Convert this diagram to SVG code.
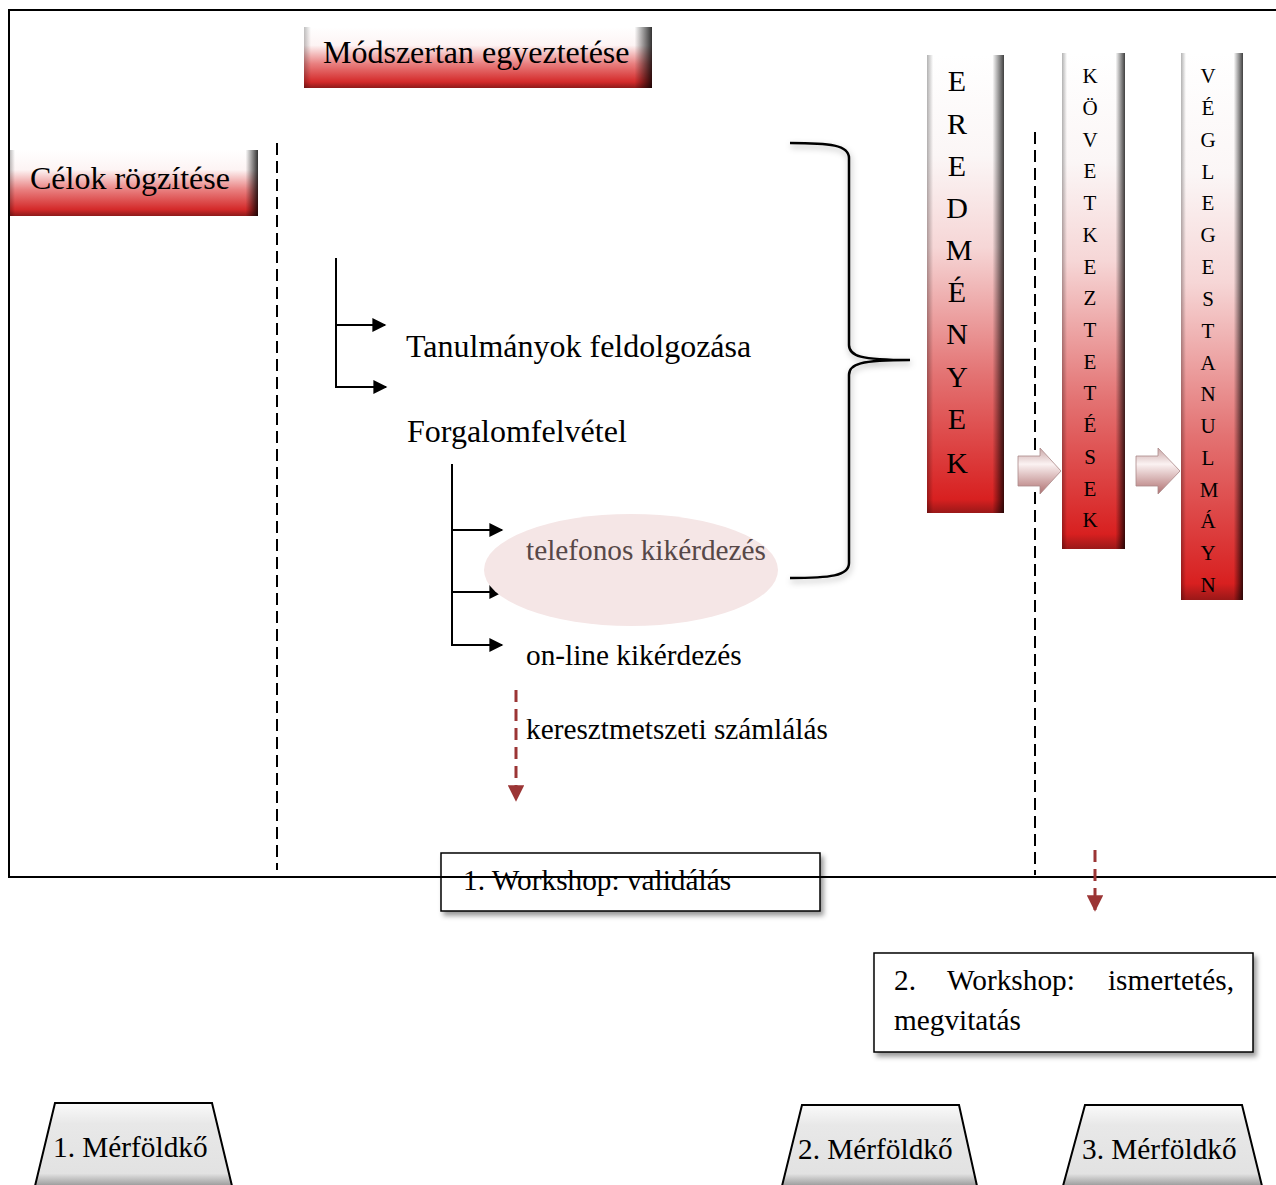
<svg xmlns="http://www.w3.org/2000/svg" width="1276" height="1185" viewBox="0 0 1276 1185">
<defs>
<linearGradient id="redV" x1="0" y1="0" x2="0" y2="1">
<stop offset="0" stop-color="#ffffff"/>
<stop offset="0.3" stop-color="#fdf4f4"/>
<stop offset="0.6" stop-color="#e98080"/>
<stop offset="0.9" stop-color="#d42a2a"/>
<stop offset="1" stop-color="#8e1a1a"/>
</linearGradient>
<linearGradient id="redCol" x1="0" y1="0" x2="0" y2="1">
<stop offset="0" stop-color="#ffffff"/>
<stop offset="0.22" stop-color="#fbf6f6"/>
<stop offset="0.42" stop-color="#f6d6d6"/>
<stop offset="0.7" stop-color="#e37272"/>
<stop offset="0.97" stop-color="#d82020"/>
<stop offset="1" stop-color="#9a1818"/>
</linearGradient>
<linearGradient id="bevelH" x1="0" y1="0" x2="1" y2="0">
<stop offset="0" stop-color="#000" stop-opacity="0.3"/>
<stop offset="0.08" stop-color="#000" stop-opacity="0"/>
<stop offset="0.85" stop-color="#000" stop-opacity="0"/>
<stop offset="1" stop-color="#000" stop-opacity="0.75"/>
</linearGradient>
<linearGradient id="bevelBox" x1="0" y1="0" x2="1" y2="0">
<stop offset="0" stop-color="#000" stop-opacity="0.25"/>
<stop offset="0.02" stop-color="#000" stop-opacity="0"/>
<stop offset="0.95" stop-color="#000" stop-opacity="0"/>
<stop offset="1" stop-color="#000" stop-opacity="0.8"/>
</linearGradient>
<linearGradient id="grayT" x1="0" y1="0" x2="0" y2="1">
<stop offset="0" stop-color="#fafafa"/>
<stop offset="0.25" stop-color="#e8e8e8"/>
<stop offset="0.85" stop-color="#e2e2e2"/>
<stop offset="1" stop-color="#9a9a9a"/>
</linearGradient>
<linearGradient id="arrowG" x1="0" y1="0" x2="0" y2="1">
<stop offset="0" stop-color="#c9a6a6"/>
<stop offset="0.35" stop-color="#fbf2f2"/>
<stop offset="1" stop-color="#b07070"/>
</linearGradient>
<filter id="sh" x="-10%" y="-10%" width="130%" height="140%">
<feDropShadow dx="3" dy="4" stdDeviation="2.5" flood-color="#000" flood-opacity="0.4"/>
</filter>
<filter id="bsh" x="-20%" y="-10%" width="140%" height="120%">
<feDropShadow dx="1" dy="3" stdDeviation="3" flood-color="#000" flood-opacity="0.3"/>
</filter>
<marker id="ah" viewBox="0 0 10 10" refX="9" refY="5" markerWidth="9" markerHeight="7" orient="auto" markerUnits="strokeWidth">
<path d="M0,0 L10,5 L0,10 Z" fill="#000"/>
</marker>
<marker id="rah" viewBox="0 0 10 10" refX="9" refY="5" markerWidth="5.5" markerHeight="5.5" orient="auto" markerUnits="strokeWidth">
<path d="M0,0 L10,5 L0,10 Z" fill="#9b3535"/>
</marker>
</defs>
<style>
text{font-family:"Liberation Serif","Times New Roman",serif;fill:#000}
.t28{font-size:32px}
.t26{font-size:29.3px}
.big{font-size:30px;text-anchor:middle}
.sm{font-size:21px;text-anchor:middle}
.ln{fill:none;stroke:#000;stroke-width:2}
.dash{fill:none;stroke:#000;stroke-width:2;stroke-dasharray:12,6}
.rdash{fill:none;stroke:#9b3535;stroke-width:3;stroke-dasharray:12,7}
.brk{fill:none;stroke:#000;stroke-width:2.5}
.wbox{fill:#fff;stroke:#000;stroke-width:1.5}
.trap{fill:url(#grayT);stroke:#000;stroke-width:2}
</style>
<rect x="0" y="0" width="1276" height="1185" fill="#fff"/>
<path d="M1276,10 H9 V877 H1276" fill="none" stroke="#000" stroke-width="2"/>

<g id="connectors">
<path class="dash" d="M277,143 V870"/>
<path class="dash" d="M1035,132 V875"/>
<path class="ln" d="M336,258 V387 H386" marker-end="url(#ah)"/>
<path class="ln" d="M336,325 H385" marker-end="url(#ah)"/>
<path class="ln" d="M452,464 V645 H502" marker-end="url(#ah)"/>
<path class="ln" d="M452,530 H502" marker-end="url(#ah)"/>
<path class="ln" d="M452,592 H502" marker-end="url(#ah)"/>
<path class="rdash" d="M516,690 V800" marker-end="url(#rah)"/>
<path class="rdash" d="M1095,850 V910" marker-end="url(#rah)"/>
<path class="brk" filter="url(#bsh)" d="M790,143 C830,143 849,145 849,158 V345 C849,356 860,360 910,360 C860,360 849,364 849,375 V563 C849,576 830,578 790,578"/>
<path d="M1018,456 H1040 V448 L1061,471 L1040,494 V486 H1018 Z" fill="url(#arrowG)" stroke="#a88" stroke-width="0.8"/>
<path d="M1136,456 H1158 V448 L1180,471 L1158,494 V486 H1136 Z" fill="url(#arrowG)" stroke="#a88" stroke-width="0.8"/>
</g>

<g id="celok">
<rect x="10" y="150" width="248" height="66" fill="url(#redV)"/>
<rect x="10" y="150" width="248" height="66" fill="url(#bevelBox)"/>
<text class="t28" x="30" y="189">Célok rögzítése</text>
</g>

<g id="modszertan">
<rect x="304" y="27" width="348" height="61" fill="url(#redV)"/>
<rect x="304" y="27" width="348" height="61" fill="url(#bevelBox)"/>
<text class="t28" x="323" y="63">Módszertan egyeztetése</text>
</g>

<g id="tanulmanyok"><text class="t28" x="406" y="357">Tanulmányok feldolgozása</text></g>
<g id="forgalom"><text class="t28" x="407" y="442">Forgalomfelvétel</text></g>

<g id="telefonos">
<ellipse cx="631" cy="570" rx="147" ry="56" fill="#f5e6e6"/>
<text class="t26" x="526" y="560" style="fill:#574848">telefonos kikérdezés</text>
</g>
<g id="online"><text class="t26" x="526" y="665">on-line kikérdezés</text></g>
<g id="kereszt"><text class="t26" x="526" y="739">keresztmetszeti számlálás</text></g>

<g id="eredmenyek">
<rect x="927" y="55" width="77" height="458" fill="url(#redCol)"/>
<rect x="927" y="55" width="77" height="458" fill="url(#bevelH)"/>
<text class="big"><tspan x="957" y="91">E</tspan><tspan x="957" y="134">R</tspan><tspan x="957" y="176">E</tspan><tspan x="957" y="218">D</tspan><tspan x="959" y="260">M</tspan><tspan x="957" y="302">É</tspan><tspan x="957" y="344">N</tspan><tspan x="957" y="387">Y</tspan><tspan x="957" y="429">E</tspan><tspan x="957" y="473">K</tspan></text>
</g>

<g id="kovetkeztetesek">
<rect x="1062" y="53" width="63" height="496" fill="url(#redCol)"/>
<rect x="1062" y="53" width="63" height="496" fill="url(#bevelH)"/>
<text class="sm"><tspan x="1090" y="83">K</tspan><tspan x="1090" y="115">Ö</tspan><tspan x="1090" y="147">V</tspan><tspan x="1090" y="178">E</tspan><tspan x="1090" y="210">T</tspan><tspan x="1090" y="242">K</tspan><tspan x="1090" y="274">E</tspan><tspan x="1090" y="305">Z</tspan><tspan x="1090" y="337">T</tspan><tspan x="1090" y="369">E</tspan><tspan x="1090" y="400">T</tspan><tspan x="1090" y="432">É</tspan><tspan x="1090" y="464">S</tspan><tspan x="1090" y="496">E</tspan><tspan x="1090" y="527">K</tspan></text>
</g>

<g id="vegleges">
<rect x="1181" y="53" width="62" height="547" fill="url(#redCol)"/>
<rect x="1181" y="53" width="62" height="547" fill="url(#bevelH)"/>
<text class="sm"><tspan x="1208" y="83">V</tspan><tspan x="1208" y="115">É</tspan><tspan x="1208" y="147">G</tspan><tspan x="1208" y="179">L</tspan><tspan x="1208" y="210">E</tspan><tspan x="1208" y="242">G</tspan><tspan x="1208" y="274">E</tspan><tspan x="1208" y="306">S</tspan><tspan x="1208" y="338">T</tspan><tspan x="1208" y="370">A</tspan><tspan x="1208" y="401">N</tspan><tspan x="1208" y="433">U</tspan><tspan x="1208" y="465">L</tspan><tspan x="1209" y="497">M</tspan><tspan x="1208" y="528">Á</tspan><tspan x="1208" y="560">Y</tspan><tspan x="1208" y="592">N</tspan></text>
</g>

<g id="workshop1">
<rect class="wbox" x="441" y="853" width="379" height="58" filter="url(#sh)"/>
<path d="M441,877 H820" stroke="#000" stroke-width="2"/>
<text class="t26" x="463" y="890">1. Workshop: validálás</text>
</g>

<g id="workshop2">
<rect class="wbox" x="874" y="953" width="379" height="99" filter="url(#sh)"/>
<text class="t26" x="894" y="990">2.</text>
<text class="t26" x="947" y="990">Workshop:</text>
<text class="t26" x="1234" y="990" style="text-anchor:end">ismertetés,</text>
<text class="t26" x="894" y="1030">megvitatás</text>
</g>

<g id="merfoldko1">
<path class="trap" d="M55,1103 H212 L232,1186 H35 Z"/>
<text class="t26" x="53" y="1157">1. Mérföldkő</text>
</g>
<g id="merfoldko2">
<path class="trap" d="M802,1105 H959 L977,1186 H782 Z"/>
<text class="t26" x="798" y="1159">2. Mérföldkő</text>
</g>
<g id="merfoldko3">
<path class="trap" d="M1085,1105 H1242 L1262,1186 H1063 Z"/>
<text class="t26" x="1082" y="1159">3. Mérföldkő</text>
</g>
</svg>
